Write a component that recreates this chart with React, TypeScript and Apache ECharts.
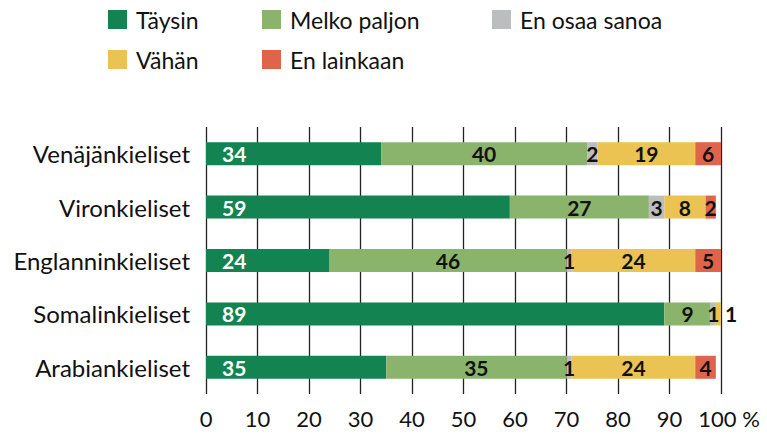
import React, { useEffect, useRef } from "react";
import * as echarts from "echarts";

const categories = ["Venäjänkieliset", "Vironkieliset", "Englanninkieliset", "Somalinkieliset", "Arabiankieliset"];
const seriesNames = ["Täysin", "Melko paljon", "En osaa sanoa", "Vähän", "En lainkaan"];
const taysin = [34, 59, 24, 89, 35];
const melkoPaljon = [40, 27, 46, 9, 35];
const enOsaaSanoa = [2, 3, 1, 1, 1];
const vahan = [19, 8, 24, 1, 24];
const enLainkaan = [6, 2, 5, 0, 4];
const xTicks = [0, 10, 20, 30, 40, 50, 60, 70, 80, 90, 100];

const colors = ["#138451", "#8ab46c", "#bcbdbf", "#ebc352", "#e0644b"];
const FONT = "Lato";

export default function App() {
  const ref = useRef<HTMLDivElement>(null);
  useEffect(() => {
    if (!ref.current) return;
    const chart = echarts.init(ref.current, null, { renderer: "svg" });
    const all = [taysin, melkoPaljon, enOsaaSanoa, vahan, enLainkaan];
    const series = all.map((arr, si) => ({
      name: seriesNames[si],
      type: "bar",
      stack: "total",
      barWidth: 23,
      itemStyle: { color: colors[si] },
      label: {
        show: true,
        position: si === 0 ? "insideLeft" : "inside",
        distance: 16,
        color: si === 0 ? "#fff" : "#111",
        fontFamily: FONT,
        fontSize: 21,
        fontWeight: "bold",
        formatter: (p: any) => (p.value ? String(p.value) : ""),
      },
      data: arr.map((v, ci) => {
        const isLastNonZero = all.slice(si + 1).every((a) => !a[ci]);
        if (si > 0 && isLastNonZero && v > 0 && v <= 1) {
          return { value: v, label: { position: "right", distance: 4 } };
        }
        return v;
      }),
    }));
    const legends = seriesNames.map((n, i) => ({
      data: [n],
      left: [108, 262, 492, 108, 262][i],
      top: [8, 8, 8, 48, 48][i],
      icon: "rect",
      itemWidth: 19,
      itemHeight: 19,
      padding: 0,
      textStyle: { fontFamily: FONT, fontSize: 23, color: "#111", padding: [0, 0, 0, 4] },
    }));
    chart.setOption({
      animation: false,
      color: colors,
      legend: legends,
      grid: { left: 206, right: 46, top: 127, bottom: 40 },
      xAxis: {
        type: "value",
        min: 0,
        max: 100,
        interval: 10,
        axisLine: { show: false },
        axisTick: { show: false },
        splitLine: { show: true, lineStyle: { color: "#222", width: 1.3 } },
        axisLabel: {
          margin: 13,
          fontFamily: FONT,
          fontSize: 22,
          color: "#111",
          formatter: (v: number) => (v === 100 ? "{a|" + v + " %}" : String(v)),
          rich: { a: { fontFamily: FONT, fontSize: 22, color: "#111", padding: [0, 0, 0, 16] } },
          customValues: xTicks,
        },
      },
      yAxis: {
        type: "category",
        inverse: true,
        data: categories,
        axisLine: { show: false },
        axisTick: { show: false },
        axisLabel: { margin: 16, fontFamily: FONT, fontSize: 24, color: "#111" },
      },
      series,
    });
    return () => chart.dispose();
  }, []);
  return <div ref={ref} style={{ width: 767, height: 434, position: "absolute", left: 0, top: 0 }} />;
}
